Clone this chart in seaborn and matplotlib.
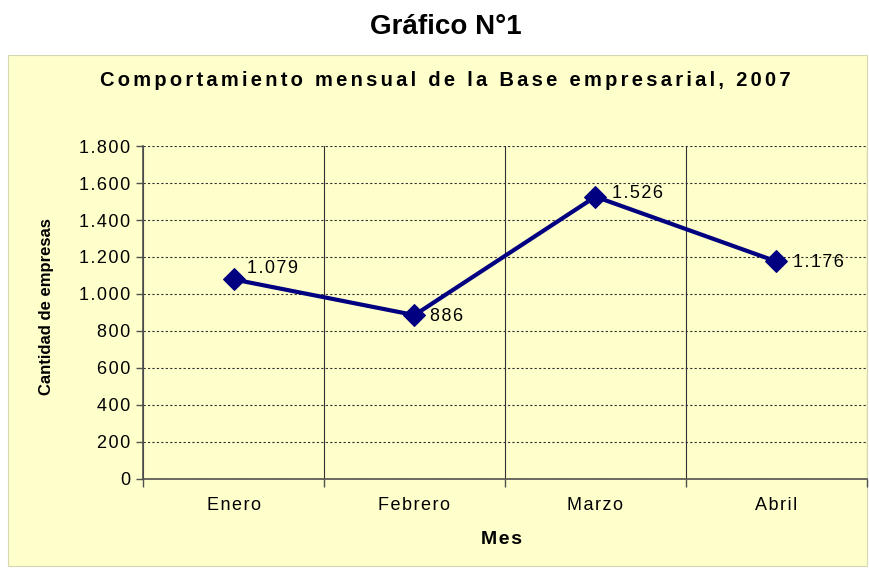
import matplotlib
matplotlib.use("Agg")
import matplotlib.pyplot as plt
import matplotlib.patches as mpatches
from matplotlib.ticker import FixedLocator, FuncFormatter
import seaborn as sns
import pandas as pd

# datos del grafico
meses = ["Enero", "Febrero", "Marzo", "Abril"]
empresas = [1079, 886, 1526, 1176]
y_ticks = [0, 200, 400, 600, 800, 1000, 1200, 1400, 1600, 1800]

df = pd.DataFrame({"Mes": meses, "Empresas": empresas})

sns.set_theme(style="white")
plt.rcParams['font.family'] = ['Liberation Sans', 'DejaVu Sans']
plt.rcParams['text.color'] = 'black'

amarillo = "#FFFFCC"
azul = "#000080"
HAIR = "\u200a"


def espaciar(s, sep=HAIR):
    # el grafico original tiene las letras algo separadas
    return sep.join(s)


def miles(v):
    return f"{int(v):,}".replace(",", ".")


fig = plt.figure(figsize=(8.7, 5.69), dpi=100)
fig.patch.set_facecolor("white")

# recuadro amarillo del grafico
fondo = mpatches.Rectangle((0.0092, 0.0053), 0.987, 0.898, transform=fig.transFigure,
                           facecolor=amarillo, edgecolor="#D8D8B0", linewidth=0.8, zorder=-10)
fig.patches.append(fondo)

ax = fig.add_axes([0.1644, 0.1582, 0.832, 0.5852])
ax.set_zorder(1)
ax.set_facecolor(amarillo)

sns.lineplot(data=df, x="Mes", y="Empresas", ax=ax, color=azul, linewidth=3,
             marker="D", markersize=11, markeredgecolor=azul, sort=False)

ax.set_xlim(-0.5, len(meses) - 0.5)
ax.set_ylim(0, 1800)
ax.yaxis.set_major_locator(FixedLocator(y_ticks))
ax.yaxis.set_major_formatter(FuncFormatter(lambda v, p: espaciar(miles(v))))
ax.set_xticks(range(len(meses)))
ax.set_xticklabels([espaciar(m) for m in meses])

# separadores de categorias
ax.xaxis.set_minor_locator(FixedLocator([i + 0.5 for i in range(-1, len(meses))]))
ax.grid(axis="x", which="minor", color="#303030", linewidth=0.8, linestyle="-")
ax.grid(axis="y", which="major", color="#303030", linewidth=0.8, linestyle=(0, (2, 2)))
ax.set_axisbelow(True)

for s in ["top", "right"]:
    ax.spines[s].set_visible(False)
for s in ["left", "bottom"]:
    ax.spines[s].set_color("#505050")
    ax.spines[s].set_linewidth(1.2)

ax.tick_params(axis="x", which="major", length=0, pad=13, labelsize=13, colors="black")
ax.tick_params(axis="x", which="minor", length=6, width=1, color="#505050", direction="out", bottom=True)
ax.tick_params(axis="y", length=5, width=1, color="#505050", direction="out", left=True,
               labelsize=13, colors="black", pad=4)

ax.set_xlabel("")
ax.set_ylabel("")

# etiquetas de datos
offsets = [(10, 8), (11, -1), (12, 2), (12, -1)]
for i, (m, v) in enumerate(zip(meses, empresas)):
    dx, dy = offsets[i]
    ax.annotate(espaciar(miles(v)), (i, v), xytext=(dx, dy), textcoords="offset points",
                ha="left", va="center", fontsize=13, color="black")

fig.text(0.512, 0.953, "Gráfico N°1", ha="center", va="center", fontsize=20, fontweight="bold")
fig.text(0.512, 0.859, espaciar("Comportamiento mensual de la Base empresarial, 2007", HAIR * 2),
         ha="center", va="center", fontsize=14.5, fontweight="bold")
fig.text(0.054, 0.462, "Cantidad de empresas", rotation=90, ha="center", va="center",
         fontsize=12, fontweight="bold")
fig.text(0.576, 0.051, espaciar("Mes"), ha="center", va="center", fontsize=14, fontweight="bold")

fig.savefig("out.png", dpi=100, facecolor=fig.get_facecolor())
